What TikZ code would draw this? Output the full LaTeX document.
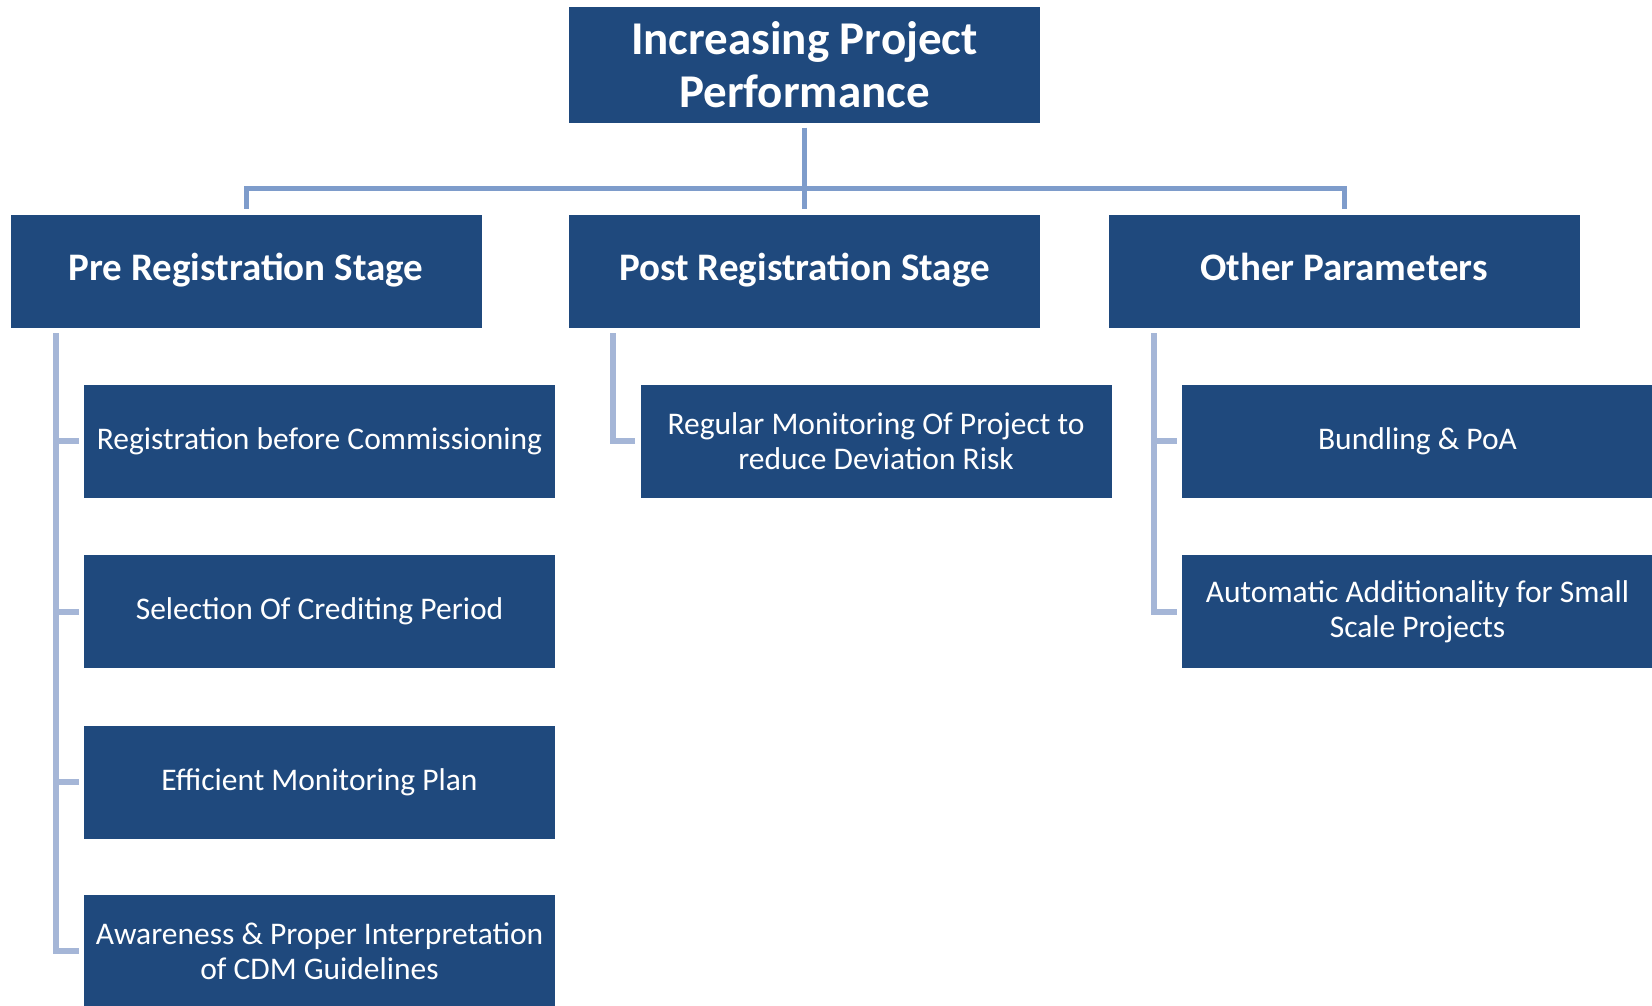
\documentclass[tikz,border=0pt]{standalone}
\usepackage{fontspec}
\setmainfont{Carlito}
\usetikzlibrary{calc}
\definecolor{boxblue}{HTML}{1F497D}
\definecolor{topline}{HTML}{7E9CCB}
\definecolor{subline}{HTML}{A5B6D7}
\begin{document}
\begin{tikzpicture}[x=1pt,y=-1pt,
  bx/.style={fill=boxblue,draw=none,text=white,inner sep=0pt,align=center,minimum width=471pt},
  l0/.style={bx,minimum height=116pt,font=\fontsize{47}{53}\selectfont\bfseries},
  l1/.style={bx,minimum height=113pt,text height=27pt,text depth=9pt,font=\fontsize{39}{45}\selectfont\bfseries},
  l2/.style={bx,minimum height=113pt,font=\fontsize{31.5}{35}\selectfont},
  tl/.style={draw=topline,line width=5pt},
  cl/.style={draw=subline,line width=6pt}]
\useasboundingbox (0,0) rectangle (1652,1005);
\clip (0,0) rectangle (1652,1005);
\node[l0] (top) at (804.5,65) {Increasing Project\\Performance};
\node[l1] (pre) at (246,271.5) {Pre Registration Stage};
\node[l1] (post) at (804.5,271.5) {Post Registration Stage};
\node[l1] (other) at (1344,271.5) {Other Parameters};
\node[l2] (c1) at (319.5,441) {Registration before Commissioning};
\node[l2] (c2) at (319.5,611.5) {Selection Of Crediting Period};
\node[l2] (c3) at (319.5,782) {Efficient Monitoring Plan};
\node[l2] (c4) at (319.5,951) {Awareness \& Proper Interpretation\\of CDM Guidelines};
\node[l2] (p1) at (876,441) {Regular Monitoring Of Project to\\reduce Deviation Risk};
\node[l2] (o1) at (1417.5,441) {Bundling \& PoA};
\node[l2] (o2) at (1417.5,611.5) {Automatic Additionality for Small\\Scale Projects};
% top connectors
\coordinate (tb) at ([yshift=-4.5pt]top.south);
\coordinate (hy) at (805,188.6);
\coordinate (pa) at ([yshift=6pt]pre.north);
\coordinate (pb) at ([yshift=6pt]post.north);
\coordinate (pc) at ([yshift=6pt]other.north);
\draw[tl] (tb) -- (pb);
\draw[tl] (pa) -- (pa |- hy) -- (pc |- hy) -- (pc);
% pre children
\coordinate (pv) at ([xshift=45.5pt,yshift=-5pt]pre.south west);
\draw[cl] (pv) |- ([xshift=-5pt]c4.west);
\foreach \c in {c1,c2,c3} \draw[cl] (pv |- \c.west) -- ([xshift=-5pt]\c.west);
% post child
\coordinate (qv) at ([xshift=44pt,yshift=-5pt]post.south west);
\draw[cl] (qv) |- ([xshift=-5pt]p1.west);
% other children
\coordinate (ov) at ([xshift=45.5pt,yshift=-5pt]other.south west);
\draw[cl] (ov) |- ([xshift=-5pt]o2.west);
\draw[cl] (ov |- o1.west) -- ([xshift=-5pt]o1.west);
\end{tikzpicture}
\end{document}
